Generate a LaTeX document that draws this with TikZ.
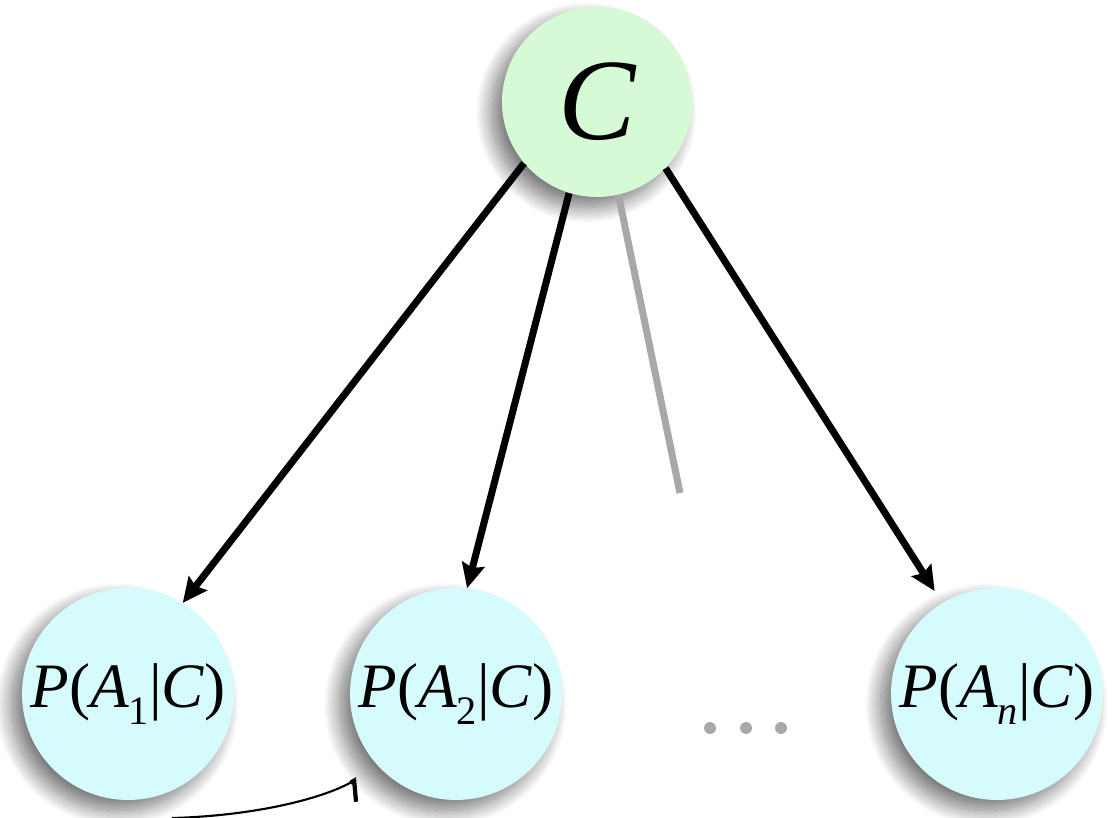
\documentclass[tikz,border=0pt]{standalone}
\usepackage{fontspec}
\setmainfont{Liberation Serif}
\usetikzlibrary{arrows.meta,shadows.blur}

% conditional probability label P(A_i|C)
\newcommand\condprob[1]{\textit{P}(\textit{A}\raisebox{-9.6pt}{\fontsize{23}{23}\selectfont #1}|\textit{C})}

\definecolor{rootfill}{RGB}{213,250,213}
\definecolor{leaffill}{RGB}{213,251,252}
\definecolor{faint}{RGB}{168,168,168}

\tikzset{
  ball/.style={circle, inner sep=0pt,
    blur shadow={shadow xshift=-6pt, shadow yshift=-6pt,
                 shadow blur radius=9pt, shadow blur steps=24,
                 shadow opacity=55}},
  root/.style={ball, fill=rootfill, minimum size=3.8cm,
               font=\fontsize{66}{70}\selectfont\itshape},
  leaf/.style={ball, fill=leaffill, minimum size=4.24cm,
               font=\fontsize{36}{40}\selectfont},
  edge/.style={line width=4pt, -{Stealth[length=14pt, width=13pt, inset=2pt]}},
  ghost/.style={line width=4pt, draw=faint},
  dot/.style={circle, fill=faint, inner sep=0pt, minimum size=0.24cm},
  hook/.style={line width=1.2pt, -{Straight Barb[harpoon, swap, length=5pt, width=22pt, line width=2.4pt]}}
}

\begin{document}
\begin{tikzpicture}[x=0.02cm, y=-0.02cm]
  \useasboundingbox (0,0) rectangle (1113,818);

  \node[root] (C)  at (597,102) {C};
  \node[leaf] (A1) at (128,694) {\condprob{1}};
  \node[leaf] (A2) at (456,694) {\condprob{2}};
  \node[leaf] (An) at (997,694) {\condprob{\textit{n}}};

  % edges from the class node to the attribute nodes
  \draw[edge] (C.220.6) -- (A1.59.3);
  \draw[edge] (C.253.3) -- (A2.84);
  \draw[edge, shorten >=8pt] (C.316.3) -- (An.121.7);

  % faded edge towards the elided nodes
  \coordinate (g) at (680,493);
  \draw[ghost] (C.283.9) -- (g);

  % ellipsis
  \node[dot] (d1) at (710,728) {};
  \node[dot] (d2) at (746,728) {};
  \node[dot] (d3) at (781,728) {};

  % small curved arrow at the bottom
  \coordinate (s) at (172,818);
  \coordinate (t) at (357,779);
  \draw[hook] (s) .. controls (250,816) and (320,800) .. (t);
\end{tikzpicture}
\end{document}
